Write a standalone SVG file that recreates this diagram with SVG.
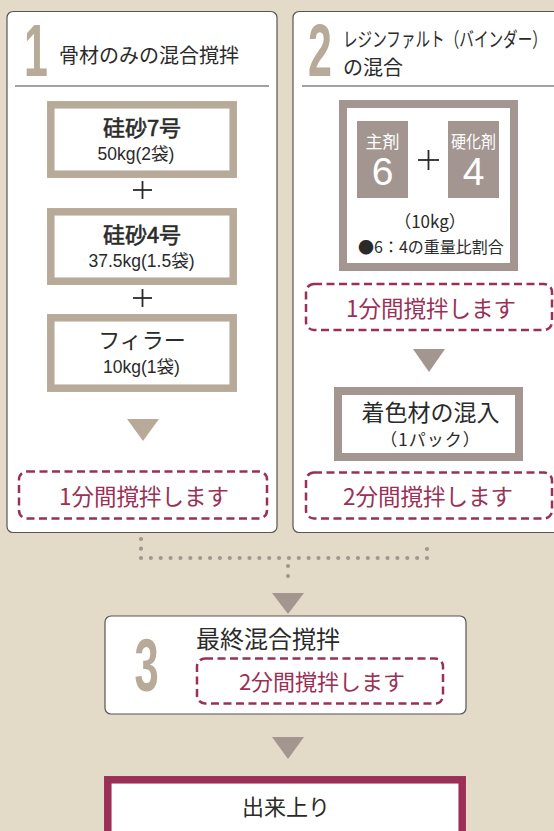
<svg xmlns="http://www.w3.org/2000/svg" width="554" height="831" viewBox="0 0 554 831">
<style>
.bg{fill:#e3dbc8}
.panel{fill:#fff;stroke:#555;stroke-width:1.2}
.div{stroke:#444;stroke-width:1.2}
.big{font-family:"Liberation Sans",Arial,sans-serif;fill:#b8aa98}
.jp{font-family:"Noto Sans CJK JP","Noto Sans",sans-serif;fill:#2a2a2a}
.med{stroke:#2a2a2a;stroke-width:0.6}
.num{font-family:"Liberation Sans","Noto Sans CJK JP",sans-serif;fill:#2a2a2a}
.bx1{fill:#fff;stroke:#b8aa98;stroke-width:7.5}
.bx2{fill:#fff;stroke:#a39590;stroke-width:8}
.dash{fill:#fff;stroke:#9b2f55;stroke-width:2.5;stroke-dasharray:8 4.5}
.red{font-family:"Noto Sans CJK JP","Noto Sans",sans-serif;fill:#9b2f55}
.tri1{fill:#b8aa98}
.tri2{fill:#a39590}
.dots{stroke:#a39590;stroke-width:4.2;stroke-linecap:round;fill:none}
.plus{stroke:#2a2a2a;stroke-width:1.8}
</style>
<rect class="bg" x="0" y="0" width="554" height="831"/>

<g id="panel1">
<rect class="panel" x="7" y="11.5" width="270" height="521" rx="6"/>
<text class="big" font-size="74" font-weight="bold" text-anchor="middle" transform="translate(36,76) scale(0.58,1)">1</text>
<text class="jp" x="59" y="63" font-size="20">骨材のみの混合撹拌</text>
<line class="div" x1="15" y1="86" x2="269" y2="86"/>
</g>

<g id="node-keisa7">
<rect class="bx1" x="50.8" y="104.8" width="182.4" height="69.4"/>
<text class="jp med" x="142" y="136" font-size="22" text-anchor="middle">硅砂7号</text>
<text class="num" x="136" y="160" font-size="17.5" text-anchor="middle">50kg(2袋)</text>
</g>
<g id="plus1">
<line class="plus" x1="133" y1="190" x2="152" y2="190"/><line class="plus" x1="142.5" y1="181" x2="142.5" y2="199"/>
</g>
<g id="node-keisa4">
<rect class="bx1" x="50.8" y="211.8" width="182.4" height="69.4"/>
<text class="jp med" x="142" y="243" font-size="22" text-anchor="middle">硅砂4号</text>
<text class="num" x="141.5" y="267" font-size="17.5" text-anchor="middle">37.5kg(1.5袋)</text>
</g>
<g id="plus2">
<line class="plus" x1="133" y1="298" x2="152" y2="298"/><line class="plus" x1="142.5" y1="289" x2="142.5" y2="307"/>
</g>
<g id="node-filler">
<rect class="bx1" x="50.8" y="317.8" width="182.4" height="70.4"/>
<text class="jp" x="142" y="348" font-size="22" text-anchor="middle">フィラー</text>
<text class="num" x="141.5" y="373" font-size="17.5" text-anchor="middle">10kg(1袋)</text>
</g>
<g id="node-mix1">
<rect class="dash" x="19" y="471.5" width="248" height="47" rx="8"/>
<text class="red" x="144" y="505" font-size="22.5" text-anchor="middle">1分間撹拌します</text>
</g>

<g id="panel2">
<rect class="panel" x="293" y="11.5" width="290" height="521" rx="6"/>
<text class="big" font-size="74" font-weight="bold" text-anchor="middle" transform="translate(320,76) scale(0.58,1)">2</text>
<text class="jp" font-size="20" transform="translate(343,47) scale(0.73,1)">レジンファルト（バインダー）</text>
<text class="jp" x="343" y="75" font-size="20">の混合</text>
<line class="div" x1="302" y1="86" x2="554" y2="86"/>
</g>

<g id="node-resin">
<rect class="bx2" x="343" y="104" width="171" height="163"/>
<rect fill="#a39590" x="357" y="121" width="51" height="77"/>
<rect fill="#a39590" x="448" y="121" width="51" height="77"/>
<text class="jp" x="382.5" y="148" font-size="17" text-anchor="middle" style="fill:#fff">主剤</text>
<text class="big" x="382.5" y="185" font-size="39" text-anchor="middle" style="fill:#fff">6</text>
<text class="jp" font-size="17" text-anchor="middle" transform="translate(473.5,148) scale(0.88,1)" style="fill:#fff">硬化剤</text>
<text class="big" x="473.5" y="185" font-size="39" text-anchor="middle" style="fill:#fff">4</text>
<line class="plus" x1="418" y1="160" x2="439" y2="160"/><line class="plus" x1="428.5" y1="150" x2="428.5" y2="170"/>
<text class="jp" x="430" y="228" font-size="17" text-anchor="middle">（10kg）</text>
<text class="jp" x="431" y="253" font-size="16" text-anchor="middle">●6：4の重量比割合</text>
</g>
<g id="node-mix2a">
<rect class="dash" x="306" y="284" width="246" height="46" rx="8"/>
<text class="red" x="431" y="317" font-size="22.5" text-anchor="middle">1分間撹拌します</text>
</g>
<g id="node-color">
<rect class="bx2" x="338" y="391" width="181" height="66"/>
<text class="jp" x="430.5" y="421" font-size="23" text-anchor="middle">着色材の混入</text>
<text class="jp" x="430.5" y="446" font-size="17" letter-spacing="1" text-anchor="middle">（1パック）</text>
</g>
<g id="node-mix2b">
<rect class="dash" x="306" y="472.5" width="246" height="46" rx="8"/>
<text class="red" x="428" y="505" font-size="22.5" text-anchor="middle">2分間撹拌します</text>
</g>

<g id="panel3">
<rect class="panel" x="105" y="616" width="361" height="98" rx="6"/>
<text class="big" font-size="75" font-weight="bold" text-anchor="middle" transform="translate(146.5,691) scale(0.58,1)">3</text>
<text class="jp" x="196" y="648" font-size="24">最終混合撹拌</text>
</g>
<g id="node-mix3">
<rect class="dash" x="197" y="658.5" width="246" height="45" rx="8"/>
<text class="red" x="322" y="690" font-size="22" text-anchor="middle">2分間撹拌します</text>
</g>

<g id="node-done">
<rect fill="#fff" stroke="#9b2f55" stroke-width="7.5" x="107.8" y="779.8" width="354.4" height="60"/>
<text class="jp" x="286" y="815" font-size="22" text-anchor="middle">出来上り</text>
</g>

<g id="connectors">
<polygon class="tri1" points="127,419 159,419 143,441"/>
<polygon class="tri2" points="413,349 445,349 429,372"/>
<path class="dots" d="M141,539 L141,558 M427,549 L427,558" stroke-dasharray="0 9.7"/>
<line class="dots" x1="141" y1="558" x2="427" y2="558" stroke-dasharray="0 9.862"/>
<path class="dots" d="M288,566 L288,586" stroke-dasharray="0 10"/>
<polygon class="tri2" points="272,593 304,593 288,614"/>
<polygon class="tri2" points="272,737 304,737 288,759"/>
</g>
</svg>
